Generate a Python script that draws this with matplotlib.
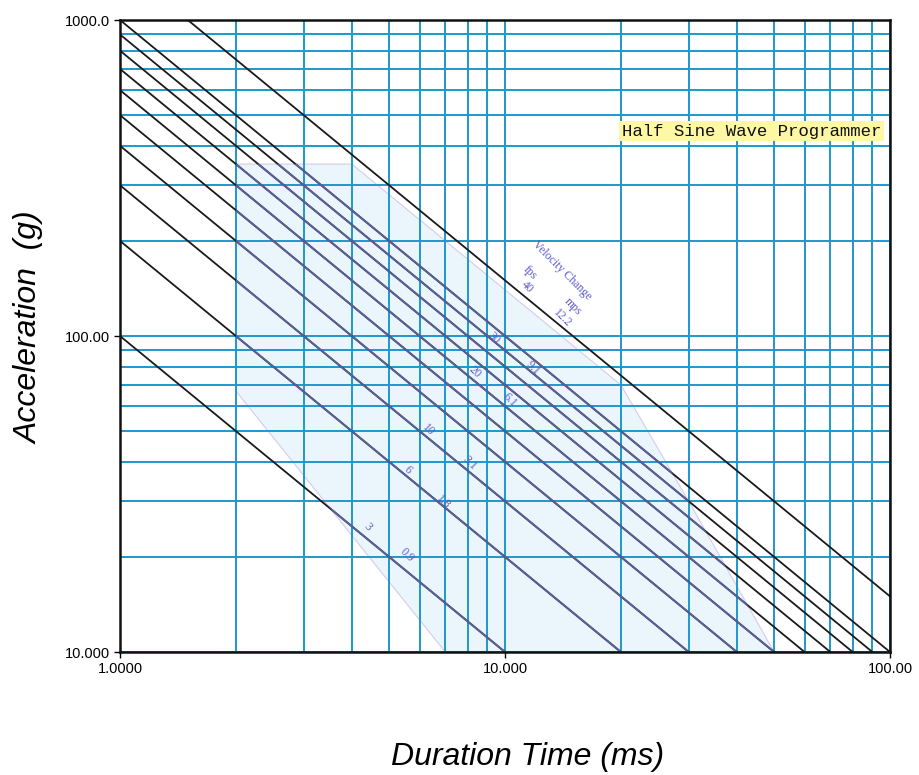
import numpy as np
import matplotlib
matplotlib.use("Agg")
import matplotlib.pyplot as plt
from matplotlib.ticker import LogLocator, NullFormatter, FixedLocator, FixedFormatter

# === DATA ===
# constant-product lines  accel * duration = C  (g*ms)
line_consts = [100, 200, 300, 400, 500, 600, 700, 800, 900, 1000, 1500]

# shaded operating region of the programmer (duration ms, accel g)
region_t = [2, 4, 20, 30, 50, 7, 2]
region_g = [350, 350, 70, 30, 10, 10, 67]

# velocity change labels (text, duration, accel)
vel_text = ["Velocity Change", "fps", "40", "mps", "12.2",
            "30", "9.1", "20", "6.1", "10", "3.1", "6", "1.8", "3", "0.9"]
vel_t = [14.1, 11.6, 11.4, 15.0, 14.1, 9.36, 11.8, 8.36, 10.3, 6.31, 8.11, 5.6, 6.9, 4.41, 5.56]
vel_g = [161, 159, 143, 124, 114, 98.6, 79, 77, 62.7, 50.4, 39.6, 37.7, 29.8, 24.9, 20.3]

x_ticks = [1, 10, 100]
x_tick_labels = ["1.0000", "10.000", "100.00"]
y_ticks = [10, 100, 1000]
y_tick_labels = ["10.000", "100.00", "1000.0"]

x_min, x_max = 1, 100
y_min, y_max = 10, 1000

# === PLOT ===
fig = plt.figure(figsize=(9.2, 7.75), dpi=100)
ax = fig.add_axes([120 / 920, 123 / 775, 770 / 920, 632 / 775])
ax.set_xscale("log")
ax.set_yscale("log")
ax.set_xlim(x_min, x_max)
ax.set_ylim(y_min, y_max)

grid_col = "#1d98cc"
poly = ax.fill(region_t, region_g, facecolor="#eaf6fb", edgecolor="#d6cbea",
               linewidth=0.8, zorder=1)[0]

ax.xaxis.set_major_locator(FixedLocator(x_ticks))
ax.xaxis.set_major_formatter(FixedFormatter(x_tick_labels))
ax.yaxis.set_major_locator(FixedLocator(y_ticks))
ax.yaxis.set_major_formatter(FixedFormatter(y_tick_labels))
ax.xaxis.set_minor_locator(LogLocator(base=10, subs=np.arange(2, 10)))
ax.yaxis.set_minor_locator(LogLocator(base=10, subs=np.arange(2, 10)))
ax.xaxis.set_minor_formatter(NullFormatter())
ax.yaxis.set_minor_formatter(NullFormatter())
ax.grid(which="both", color=grid_col, linewidth=1.4, zorder=2)
ax.set_axisbelow(False)
ax.tick_params(which="minor", length=0)
ax.tick_params(which="major", length=4, width=1, labelsize=10.5, pad=3)
for lab in ax.get_xticklabels() + ax.get_yticklabels():
    lab.set_fontfamily("Liberation Sans")

for c in line_consts:
    t = np.array([max(x_min, c / y_max), min(x_max, c / y_min)])
    ax.plot(t, c / t, color="#1a1a1a", linewidth=1.3, zorder=3)
    inner, = ax.plot(t, c / t, color="#59609a", linewidth=1.4, zorder=4)
    inner.set_clip_path(poly)

for s, t, g in zip(vel_text, vel_t, vel_g):
    ax.text(t, g, s, color="#5b5bd0", fontsize=8.5, family="Liberation Serif",
            rotation=-45, ha="center", va="center", zorder=5)

ax.text(20.1, 445, "Half Sine Wave Programmer", family="Liberation Mono",
        fontsize=12.5, ha="left", va="center", color="#111111", zorder=6,
        clip_on=False,
        bbox=dict(boxstyle="square,pad=0.15", facecolor="#fdf7a6", edgecolor="none"))

for sp in ax.spines.values():
    sp.set_linewidth(1.8)
    sp.set_color("#111111")
    sp.set_zorder(7)

fig.text(528 / 920, 1 - 757 / 775, "Duration Time (ms)", fontsize=23, style="italic",
         family="Liberation Sans", ha="center", va="center")
fig.text(30 / 920, 1 - 328 / 775, "Acceleration  (g)", fontsize=23, style="italic",
         family="Liberation Sans", ha="center", va="center", rotation=90)

fig.savefig("out.png", dpi=100)
